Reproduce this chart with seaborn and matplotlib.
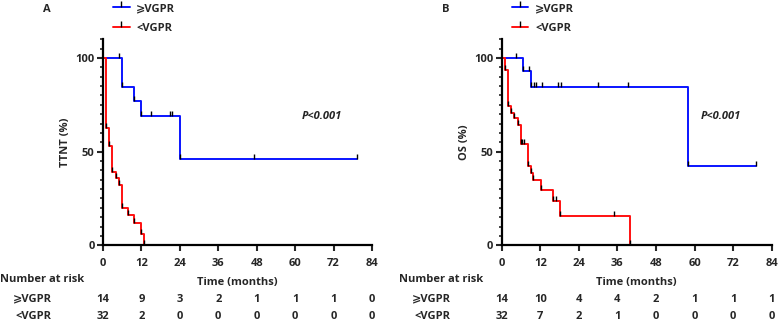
import numpy as np
import pandas as pd
import matplotlib
matplotlib.use("Agg")
import matplotlib.pyplot as plt
from matplotlib.lines import Line2D
from matplotlib.markers import TICKUP
import seaborn as sns

# ---- data ----
months = [0, 12, 24, 36, 48, 60, 72, 84]
groups = ["\u2a7eVGPR", "<VGPR"]

# panel A : TTNT
A_hi_t = [0, 5.9, 9.8, 11.9, 23.9, 79.3]
A_hi_s = [100, 84.6, 76.9, 69.2, 46.1, 46.1]
A_hi_cens_t = [5.0, 14.9, 21.0, 21.6, 47.1]
A_hi_cens_s = [100, 69.2, 69.2, 69.2, 46.1]
A_lo_t = [0, 0.8, 1.8, 2.8, 4.0, 5.1, 5.8, 7.9, 9.8, 11.8, 12.8]
A_lo_s = [100, 62.5, 53.0, 39.3, 35.8, 32.2, 20.1, 16.2, 12.1, 5.9, 0]
A_lo_cens_t = []
A_lo_cens_s = []
A_hi_risk = [14, 9, 3, 2, 1, 1, 1, 0]
A_lo_risk = [32, 2, 0, 0, 0, 0, 0, 0]

# panel B : OS
B_hi_t = [0, 6.6, 9.2, 58.1, 79.0]
B_hi_s = [100, 92.9, 84.4, 42.2, 42.2]
B_hi_cens_t = [4.3, 8.4, 9.9, 10.6, 12.6, 17.5, 18.3, 30.1, 39.2]
B_hi_cens_s = [100, 92.9, 84.4, 84.4, 84.4, 84.4, 84.4, 84.4, 84.4]
B_lo_t = [0, 0.9, 1.9, 2.8, 3.8, 5.1, 5.9, 8.1, 9.0, 9.8, 12.1, 16.1, 18.1, 39.9]
B_lo_s = [100, 93.8, 74.5, 70.9, 68.1, 64.5, 53.9, 42.2, 38.6, 34.7, 29.7, 23.7, 15.7, 0]
B_lo_cens_t = [6.4, 7.0, 16.9, 35.0]
B_lo_cens_s = [53.9, 53.9, 23.7, 15.7]
B_hi_risk = [14, 10, 4, 4, 2, 1, 1, 1]
B_lo_risk = [32, 7, 2, 1, 0, 0, 0, 0]

BLUE = "#0a14ff"
RED = "#ff1010"
FS = 8

sns.set_theme(style="ticks")
plt.rcParams["font.family"] = ["Open Sans", "DejaVu Sans"]
plt.rcParams["font.weight"] = "bold"
plt.rcParams["font.size"] = FS

fig = plt.figure(figsize=(7.79, 3.22), dpi=100)
axA = fig.add_axes([103 / 779, 1 - 245.3 / 322, 269 / 779, 206 / 322])
axB = fig.add_axes([501.7 / 779, 1 - 245.3 / 322, 270 / 779, 206 / 322])


def curve(ax, t, s, ct, cs, color):
    df = pd.DataFrame({"t": t, "s": s})
    sns.lineplot(data=df, x="t", y="s", drawstyle="steps-post", color=color,
                 lw=1.4, estimator=None, sort=False, ax=ax)
    # black ticks at every step and censor time
    mt = list(t[1:]) + list(ct)
    ms = list(s[1:]) + list(cs)
    ax.plot(mt, ms, ls="none", marker=TICKUP, ms=3.5, mew=1.0, color="black", zorder=3)


def style(ax, ylab, letter, hi_risk, lo_risk):
    ax.set_xlim(0, 84)
    ax.set_ylim(0, 110)
    ax.set_xticks(months)
    ax.set_xticklabels([str(m) for m in months], fontweight="bold")
    ax.set_yticks([0, 50, 100])
    ax.set_yticklabels(["0", "50", "100"], fontweight="bold")
    ax.set_yticks(np.arange(0, 111, 5), minor=True)
    ax.tick_params(axis="both", which="major", length=4, width=1.5, pad=2, labelsize=FS)
    ax.tick_params(axis="x", which="major", pad=5)
    ax.tick_params(axis="y", which="minor", length=2.5, width=1.2)
    for sp in ["left", "bottom"]:
        ax.spines[sp].set_linewidth(1.6)
        ax.spines[sp].set_color("black")
    sns.despine(ax=ax)
    ax.set_ylabel(ylab, fontweight="bold", fontsize=FS, labelpad=3)
    ax.set_xlabel("Time (months)", fontweight="bold", fontsize=FS, labelpad=6)
    ax.text(62, 69, "P<0.001", fontstyle="italic", fontweight="bold", fontsize=FS,
            va="center", ha="left")
    # panel letter & legend
    x0 = ax.get_position().x0
    fig.text(x0 - 60 / 779, 1 - 9 / 322, letter, fontweight="bold", fontsize=FS,
             va="center", ha="left")
    handles = [Line2D([], [], color=BLUE, lw=1.4, marker=TICKUP, mec="black", ms=4),
               Line2D([], [], color=RED, lw=1.4, marker=TICKUP, mec="black", ms=4)]
    fig.legend(handles, groups, loc="upper left", frameon=False, numpoints=1,
               bbox_to_anchor=(x0 + 0 / 779, 1 + 7 / 322), handlelength=1.5,
               handletextpad=0.6, labelspacing=0.8, prop={"weight": "bold", "size": FS})
    # number at risk table
    tr = matplotlib.transforms.blended_transform_factory(ax.transData, fig.transFigure)
    fig.text(x0 - 103 / 779, 1 - 280 / 322, "Number at risk", fontweight="bold",
             fontsize=FS, va="center", ha="left")
    for row, (lab, vals) in enumerate(zip(groups, [hi_risk, lo_risk])):
        y = 1 - (299.3 + 17.4 * row) / 322
        fig.text(x0 - 51 / 779, y, lab, fontweight="bold", fontsize=FS, va="center", ha="right")
        for m, v in zip(months, vals):
            ax.text(m, y, str(v), transform=tr, fontweight="bold", fontsize=FS,
                    va="center", ha="center")


curve(axA, A_hi_t, A_hi_s, A_hi_cens_t, A_hi_cens_s, BLUE)
curve(axA, A_lo_t, A_lo_s, A_lo_cens_t, A_lo_cens_s, RED)
style(axA, "TTNT (%)", "A", A_hi_risk, A_lo_risk)

curve(axB, B_hi_t, B_hi_s, B_hi_cens_t, B_hi_cens_s, BLUE)
curve(axB, B_lo_t, B_lo_s, B_lo_cens_t, B_lo_cens_s, RED)
style(axB, "OS (%)", "B", B_hi_risk, B_lo_risk)

fig.savefig("out.png", dpi=100)
